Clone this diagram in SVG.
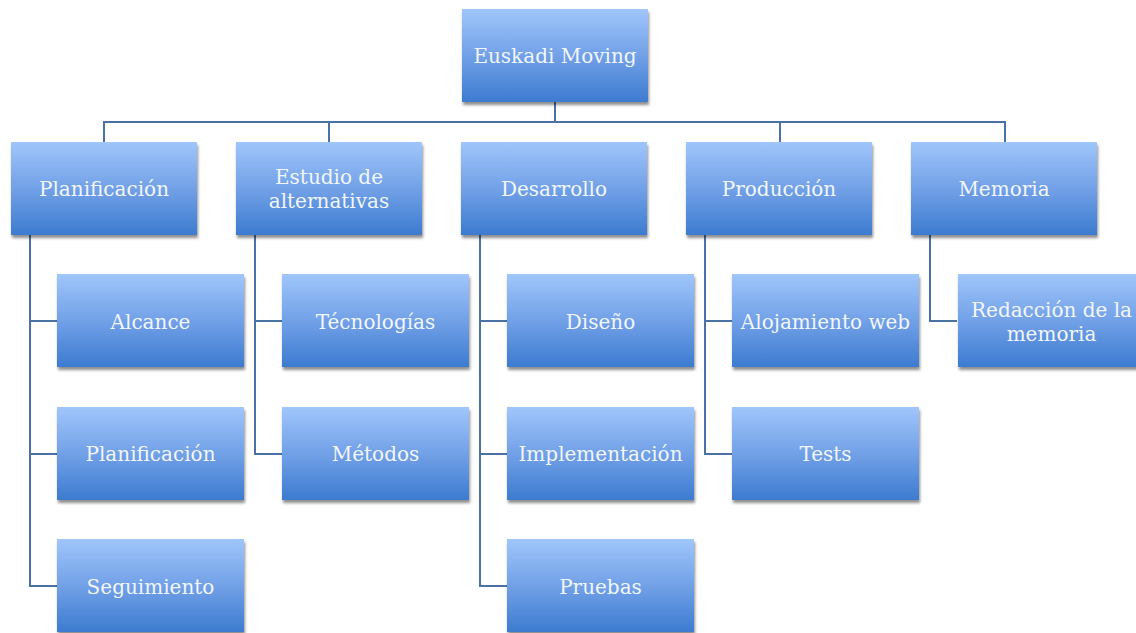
<svg xmlns="http://www.w3.org/2000/svg" width="1136" height="633" viewBox="0 0 1136 633">
<defs>
<linearGradient id="g" x1="0" y1="0" x2="0" y2="1">
<stop offset="0" stop-color="#a0c6fb"/>
<stop offset="0.55" stop-color="#6d9de5"/>
<stop offset="1" stop-color="#3c7bd0"/>
</linearGradient>
<filter id="sh" x="-10%" y="-10%" width="125%" height="130%">
<feGaussianBlur in="SourceAlpha" stdDeviation="1.5"/>
<feOffset dx="1" dy="2.5"/>
<feComponentTransfer><feFuncA type="linear" slope="0.45"/></feComponentTransfer>
<feMerge><feMergeNode/><feMergeNode in="SourceGraphic"/></feMerge>
</filter>
</defs>
<style>
.b{fill:url(#g);filter:url(#sh);}
.t{font-family:"DejaVu Serif","Liberation Serif",serif;font-size:20px;fill:#f2f6fc;text-anchor:middle;}
.c{fill:none;stroke:#4a72a4;stroke-width:2;}
</style>
<rect width="1136" height="633" fill="#ffffff"/>
<g id="connectors">
<path class="c" d="M555 102V122M104 142V122H1005V142M329 122V142M780 122V142"/>
<path class="c" d="M30 235V586H57M30 321H57M30 454H57"/>
<path class="c" d="M255 235V454H282M255 321H282"/>
<path class="c" d="M480 235V586H507M480 321H507M480 454H507"/>
<path class="c" d="M705 235V454H732M705 321H732"/>
<path class="c" d="M930 235V321H957"/>
</g>
<g id="n-root"><rect class="b" x="462" y="9" width="186" height="93"/><text class="t" x="555" y="63">Euskadi Moving</text></g>
<g id="n-planificacion"><rect class="b" x="11" y="142" width="186" height="93"/><text class="t" x="104" y="196">Planificación</text></g>
<g id="n-estudio"><rect class="b" x="236" y="142" width="186" height="93"/><text class="t" x="329" y="184">Estudio de</text><text class="t" x="329" y="208">alternativas</text></g>
<g id="n-desarrollo"><rect class="b" x="461" y="142" width="186" height="93"/><text class="t" x="554" y="196">Desarrollo</text></g>
<g id="n-produccion"><rect class="b" x="686" y="142" width="186" height="93"/><text class="t" x="779" y="196">Producción</text></g>
<g id="n-memoria"><rect class="b" x="911" y="142" width="186" height="93"/><text class="t" x="1004" y="196">Memoria</text></g>
<g id="n-alcance"><rect class="b" x="57" y="274" width="187" height="93"/><text class="t" x="150.5" y="329">Alcance</text></g>
<g id="n-planificacion2"><rect class="b" x="57" y="407" width="187" height="93"/><text class="t" x="150.5" y="461">Planificación</text></g>
<g id="n-seguimiento"><rect class="b" x="57" y="539" width="187" height="93"/><text class="t" x="150.5" y="594">Seguimiento</text></g>
<g id="n-tecnologias"><rect class="b" x="282" y="274" width="187" height="93"/><text class="t" x="375.5" y="329">Técnologías</text></g>
<g id="n-metodos"><rect class="b" x="282" y="407" width="187" height="93"/><text class="t" x="375.5" y="461">Métodos</text></g>
<g id="n-diseno"><rect class="b" x="507" y="274" width="187" height="93"/><text class="t" x="600.5" y="329">Diseño</text></g>
<g id="n-implementacion"><rect class="b" x="507" y="407" width="187" height="93"/><text class="t" x="600.5" y="461">Implementación</text></g>
<g id="n-pruebas"><rect class="b" x="507" y="539" width="187" height="93"/><text class="t" x="600.5" y="594">Pruebas</text></g>
<g id="n-alojamiento"><rect class="b" x="732" y="274" width="187" height="93"/><text class="t" x="825.5" y="329">Alojamiento web</text></g>
<g id="n-tests"><rect class="b" x="732" y="407" width="187" height="93"/><text class="t" x="825.5" y="461">Tests</text></g>
<g id="n-redaccion"><rect class="b" x="958" y="274" width="187" height="93"/><text class="t" x="1051.5" y="317">Redacción de la</text><text class="t" x="1051.5" y="341">memoria</text></g>
</svg>
